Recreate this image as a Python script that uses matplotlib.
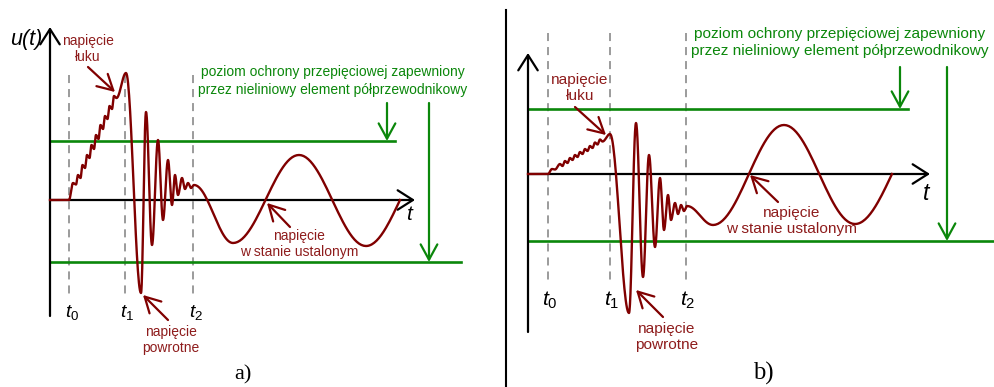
import numpy as np
import matplotlib
matplotlib.use("Agg")
import matplotlib.pyplot as plt

plt.rcParams['font.family'] = ['Liberation Sans', 'DejaVu Sans']
plt.rcParams['mathtext.fontset'] = 'custom'
plt.rcParams['mathtext.it'] = 'Liberation Sans:italic'
plt.rcParams['mathtext.rm'] = 'Liberation Sans'

MAROON = '#800000'
LABEL_RED = '#8e1c1c'
GREEN = '#0b870b'
GREY = '#9b9b9b'

# waveform knots (local extrema): x along the time axis, u above the t axis
wave_a_x = [50, 69, 73, 76, 78, 80.5, 82.5, 85, 87, 89.5, 91.5, 94, 96, 98.5,
            100.5, 103, 105, 107.5, 109.5, 112, 114, 116.5, 126, 141, 146, 152,
            158, 163, 168, 172, 175, 178, 182, 185, 188, 191, 194, 233, 299, 366, 400]
wave_a_u = [0, 0, 17, 15.5, 25, 22, 35, 32, 45, 42, 55, 51, 65, 61,
            75, 71, 84, 81, 94, 91, 104, 102, 127, -93, 88, -45,
            60, -20, 40, -5, 25, 5, 22, 11, 17, 12, 15, -43, 45, -46, 0]

wave_b_x = [528, 548, 552, 555, 560, 562.5, 565, 567.5, 570, 572.5, 575, 577.5,
            580, 582.5, 585, 587.5, 590, 592.5, 595, 597.5, 600, 602.5, 610, 629,
            636, 643, 649, 655, 660, 664, 668, 671, 675, 678, 681, 684, 687, 713,
            784, 855, 892]
wave_b_u = [0, 0, 5, 4.5, 10, 8, 13, 11, 16, 14, 19, 17,
            22, 20, 25, 23, 28, 26, 31.5, 29.5, 34.5, 32.5, 40, -139,
            51, -103, 19, -73, -4, -56, -21, -46, -29, -40, -31, -37, -32, -51,
            49, -50, 0]

# switching instants t0, t1, t2
t_marks_a = [69, 125, 193]
t_marks_b = [548, 610, 686]
t_names = [r'$t_0$', r'$t_1$', r'$t_2$']

# protection levels of the semiconductor element (upper, lower)
prot_a = [59, -62]
prot_b = [65, -67]

txt_prot = 'poziom ochrony przepięciowej zapewniony\nprzez nieliniowy element półprzewodnikowy'
txt_arc = 'napięcie\nłuku'
txt_recovery = 'napięcie\npowrotne'
txt_steady = 'napięcie\nw stanie ustalonym'


def half_waves(xk, uk, n=30):
    """Join extrema with half-cosine arcs; the last piece ends on a zero crossing."""
    xs, us = [], []
    for i in range(len(xk) - 1):
        s = np.linspace(0, 1, n)
        if i == len(xk) - 2:
            shape = 1 - np.cos(s * np.pi / 2)
        else:
            shape = (1 - np.cos(s * np.pi)) / 2
        xs.append(xk[i] + (xk[i + 1] - xk[i]) * s)
        us.append(uk[i] + (uk[i + 1] - uk[i]) * shape)
    return np.concatenate(xs), np.concatenate(us)


def arrow(ax, tail, head, color, lw, hl=0.5, hw=0.3, scale=20):
    ax.annotate('', xy=head, xytext=tail, annotation_clip=False,
                arrowprops=dict(arrowstyle=f'->,head_length={hl},head_width={hw}',
                                color=color, lw=lw, shrinkA=0, shrinkB=0,
                                mutation_scale=scale))


def dashes(lw):
    return (0, (5.8 / lw, 4.3 / lw))


def draw_panel(ax, wx, wu, tmarks, prot, geo, fs):
    ox = geo['origin_x']
    # axes
    arrow(ax, (ox, geo['y_bottom']), (ox, geo['y_top']), 'black', 1.6, 0.55, 0.35)
    arrow(ax, (ox, 0), (geo['t_end'], 0), 'black', 1.6, 0.55, 0.35)
    # switching instants
    for x, name, lx in zip(tmarks, t_names, geo['t_label_x']):
        ax.plot([x, x], geo['dash_span'], color=GREY, lw=1.4, ls=dashes(1.4), zorder=1)
        ax.text(lx, geo['t_label_u'], name, fontsize=fs * 1.38, ha='center', va='center')
    # protection levels
    ax.plot([ox, geo['prot_end'][0]], [prot[0], prot[0]], color=GREEN, lw=1.9, zorder=2)
    ax.plot([ox, geo['prot_end'][1]], [prot[1], prot[1]], color=GREEN, lw=1.9, zorder=2)
    for x, lvl in zip(geo['prot_arrow_x'], prot):
        arrow(ax, (x, geo['prot_arrow_top']), (x, lvl), GREEN, 1.6, 0.55, 0.3)
    ax.text(*geo['prot_text'], txt_prot, color=GREEN, fontsize=fs, ha='center',
            va='center', linespacing=1.3)
    # waveform
    x, u = half_waves(wx, wu)
    ax.plot(x, u, color=MAROON, lw=1.7, zorder=4, solid_joinstyle='round')
    # labels with pointers
    for key, txt in (('arc', txt_arc), ('rec', txt_recovery), ('steady', txt_steady)):
        lab, tail, head = geo[key]
        ax.text(*lab, txt, color=LABEL_RED, fontsize=fs, ha='center', va='center',
                linespacing=1.25)
        arrow(ax, tail, head, MAROON, 1.6, 0.55, 0.3)
    ax.text(*geo['t_label'], 't', fontsize=fs * 1.5, style='italic', ha='center', va='center')
    ax.text(*geo['panel_label'], geo['panel_name'], fontsize=fs * 1.6,
            family='Liberation Serif', ha='center', va='center')


fig = plt.figure(figsize=(9.94, 3.87), dpi=100)
ax_a = fig.add_axes([0, 0, 503 / 994, 1])
ax_a.set_xlim(0, 503)
ax_a.set_ylim(200 - 387, 200)
ax_b = fig.add_axes([503 / 994, 0, 491 / 994, 1])
ax_b.set_xlim(503, 994)
ax_b.set_ylim(174 - 387, 174)
for ax in (ax_a, ax_b):
    ax.axis('off')

geo_a = dict(origin_x=50, y_bottom=-116, y_top=173, t_end=415,
             dash_span=[125, -95], t_label_x=[72, 127, 196], t_label_u=-112,
             prot_end=[395, 461], prot_arrow_x=[387, 429], prot_arrow_top=97,
             prot_text=(333, 119),
             arc=((88, 151), (88, 133), (115, 108)),
             rec=((171, -140), (168, -120), (143, -95)),
             steady=((299, -44), (290, -27), (267, -3)),
             t_label=(409, -15), panel_label=(243, -175), panel_name='a)')
geo_b = dict(origin_x=528, y_bottom=-158, y_top=121, t_end=930,
             dash_span=[141, -106], t_label_x=[550, 612, 688], t_label_u=-126,
             prot_end=[908, 994], prot_arrow_x=[900, 947], prot_arrow_top=107,
             prot_text=(840, 131.5),
             arc=((580, 86), (575, 67), (606, 39)),
             rec=((667, -163), (663, -143), (636, -116)),
             steady=((792, -47), (778, -28), (750, -1)),
             t_label=(926, -19), panel_label=(763, -199), panel_name='b)')

draw_panel(ax_a, wave_a_x, wave_a_u, t_marks_a, prot_a, geo_a, 10)
draw_panel(ax_b, wave_b_x, wave_b_u, t_marks_b, prot_b, geo_b, 11.1)

ax_a.text(26, 160, 'u(t)', fontsize=15.5, style='italic', ha='center', va='center')
# separator between the two panels
ax_b.plot([506, 506], [164, -213], color='black', lw=1.5)

fig.savefig('out.png', dpi=100)
